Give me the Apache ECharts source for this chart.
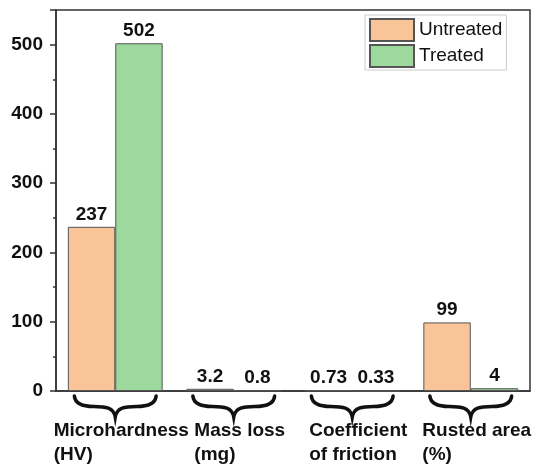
<!DOCTYPE html>
<html><head><meta charset="utf-8">
<script src="https://cdn.jsdelivr.net/npm/echarts@6/dist/echarts.min.js"></script>
<style>html,body{margin:0;padding:0;background:#fff}#c{width:541px;height:465px}</style>
</head><body><div id="c"></div>
<script>
const categories = ['Microhardness\n(HV)', 'Mass loss\n(mg)', 'Coefficient\nof friction', 'Rusted area\n(%)'];
const seriesNames = ['Untreated', 'Treated'];
const untreated = [237, 3.2, 0.73, 99];
const treated = [502, 0.8, 0.33, 4];

const FONT = '"Liberation Sans", Arial, sans-serif';
const chart = echarts.init(document.getElementById('c'), null, {renderer: 'canvas'});
const mctx = document.createElement('canvas').getContext('2d');
mctx.font = 'bold 19px ' + FONT;
function blockWidth(t){ return Math.max.apply(null, t.split('\n').map(s => mctx.measureText(s).width)); }

const valueLabel = {show: true, position: 'top', distance: 3, color: '#111', fontFamily: FONT, fontWeight: 'bold', fontSize: 19};

chart.setOption({
  animation: false,
  grid: {left: 56, right: 11, top: 10, bottom: 74, show: true, borderColor: '#333', borderWidth: 1.5, backgroundColor: 'transparent'},
  legend: {
    data: seriesNames, orient: 'vertical', left: 365, top: 15, icon: 'rect',
    itemWidth: 44, itemHeight: 22, itemGap: 2, padding: [3, 4, 2, 4],
    borderColor: '#ccc', borderWidth: 1,
    textStyle: {fontFamily: FONT, fontSize: 19, color: '#111'}
  },
  xAxis: {
    type: 'category', data: categories,
    axisLine: {lineStyle: {color: '#333', width: 1.5}},
    axisTick: {show: false}, axisLabel: {show: false}, splitLine: {show: false}
  },
  yAxis: {
    type: 'value', min: 0, max: 550, interval: 100,
    axisLine: {show: true, lineStyle: {color: '#333', width: 1.5}},
    axisTick: {show: true, length: 6, lineStyle: {color: '#333', width: 1.5}},
    minorTick: {show: true, splitNumber: 2, length: 3, lineStyle: {color: '#333', width: 1.5}},
    axisLabel: {margin: 13, color: '#111', fontFamily: FONT, fontWeight: 'bold', fontSize: 19,
      formatter: v => (v > 500 ? '' : String(v))},
    splitLine: {show: false}
  },
  series: [
    {name: seriesNames[0], type: 'bar', data: untreated, barGap: '0%', barCategoryGap: '20%',
     itemStyle: {color: '#F9C598', borderColor: '#555', borderWidth: 1}, label: valueLabel},
    {name: seriesNames[1], type: 'bar', data: treated, barGap: '0%', barCategoryGap: '20%',
     itemStyle: {color: '#9DD89C', borderColor: '#555', borderWidth: 1}, label: valueLabel},
    {type: 'custom', silent: true, clip: false, z: 10,
     data: categories.map((c, i) => [i, 0]),
     encode: {x: 0, y: 1},
     renderItem: function (params, api) {
       const idx = api.value(0);
       const p = api.coord([idx, 0]);
       const bw = api.size([1, 0])[0];
       const cx = p[0], y0 = p[1];
       const w = bw * 0.69, h = 21;
       const L = 0, R = w, C = w / 2, top = 0, mid = h * 0.5, bot = h;
       const f = (a, b) => a.toFixed(2) + ' ' + b.toFixed(2);
       const d = 'M' + f(L, top) +
         ' C' + f(L + 0.01 * w, top + h * 0.4) + ' ' + f(L + 0.12 * w, mid) + ' ' + f(L + 0.24 * w, mid) +
         ' C' + f(C - 0.12 * w, mid) + ' ' + f(C - 0.02 * w, mid + 1) + ' ' + f(C, bot) +
         ' C' + f(C + 0.02 * w, mid + 1) + ' ' + f(C + 0.12 * w, mid) + ' ' + f(R - 0.24 * w, mid) +
         ' C' + f(R - 0.12 * w, mid) + ' ' + f(R - 0.01 * w, top + h * 0.4) + ' ' + f(R, top);
       const label = categories[idx];
       const bwid = blockWidth(label);
       return {type: 'group', children: [
         {type: 'path', shape: {pathData: d, x: cx - w / 2, y: y0 + 5, width: w, height: h},
          style: {fill: 'none', stroke: '#111', lineWidth: 3.5, lineCap: 'round'}},
         {type: 'text', x: cx - bwid / 2 + 6, y: y0 + 28,
          style: {text: label, fill: '#111', font: 'bold 19px ' + FONT, align: 'left', verticalAlign: 'top', lineHeight: 24}}
       ]};
     }}
  ]
});
</script></body></html>
